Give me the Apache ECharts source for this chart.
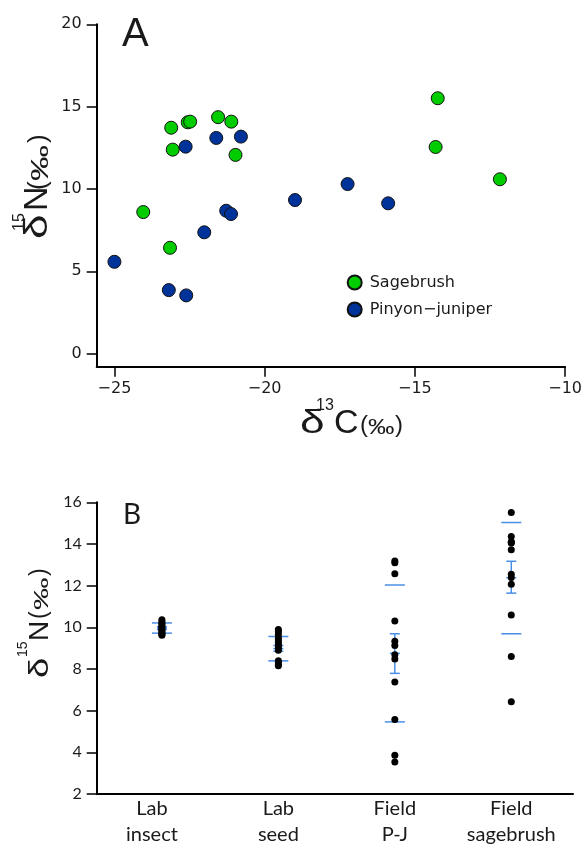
<!DOCTYPE html>
<html><head><meta charset="utf-8">
<script src="https://cdn.jsdelivr.net/npm/echarts@6/dist/echarts.min.js"></script>
<style>html,body{margin:0;padding:0;background:#fff}#c{width:585px;height:848px}</style>
</head><body><div id="c"></div>
<script>
// ---------- Panel A data (δ13C, δ15N) ----------
const sageC = [-23.11, -23.06, -22.56, -22.48, -21.55, -21.11, -20.97, -24.04, -23.15, -14.24, -14.31, -12.17];
const sageN = [13.72, 12.39, 14.05, 14.09, 14.36, 14.09, 12.07, 8.60, 6.43, 15.51, 12.55, 10.59];
const pjC = [-22.63, -21.61, -20.79, -21.28, -21.12, -25.00, -23.19, -22.61, -22.01, -18.99, -17.24, -15.89];
const pjN = [12.57, 13.10, 13.18, 8.68, 8.48, 5.58, 3.86, 3.54, 7.37, 9.33, 10.30, 9.13];
const xTicksA = [-25, -20, -15, -10];
const yTicksA = [0, 5, 10, 15, 20];
const seriesNamesA = ['Sagebrush', 'Pinyon\u2212juniper'];

// ---------- Panel B data (δ15N by group) ----------
const categoriesB = ['Lab\ninsect', 'Lab\nseed', 'Field\nP-J', 'Field\nsagebrush'];
const labInsectN = [10.36, 10.28, 10.20, 10.12, 10.05, 9.98, 9.92, 9.85, 9.78, 9.72, 9.66, 9.62];
const labSeedN = [9.90, 9.80, 9.65, 9.50, 9.40, 9.30, 9.20, 9.10, 9.00, 8.90, 8.40, 8.30, 8.20, 8.15];
const fieldPJN = pjN;
const fieldSageN = sageN;
const meanB   = [9.96, 8.98, 8.75, 12.38];
const seHighB = [10.03, 9.13, 9.69, 13.17];
const seLowB  = [9.89, 8.85, 7.79, 11.64];
const sdHighB = [10.21, 9.56, 12.03, 15.03];
const sdLowB  = [9.72, 8.39, 5.46, 9.69];
const yTicksB = [2, 4, 6, 8, 10, 12, 14, 16];

const GREEN = '#00cc00', NAVY = '#003399', ERR = '#4a8fe6', INK = '#1a1a1a';
const minus = v => String(v).replace('-', '\u2212');

function hText(parts, fam) {
  return parts.map(p => ({
    type: 'text', x: p.s, y: p.b - 0.35 * p.f, scaleX: p.sx || 1,
    style: { text: p.t, fontSize: p.f, fontFamily: p.fam || fam, fill: INK, align: 'left', verticalAlign: 'middle' }
  }));
}
function vText(parts, fam) {
  return parts.map(p => ({
    type: 'text', x: p.b - 0.35 * p.f, y: p.s, rotation: Math.PI / 2, scaleX: p.sx || 1,
    style: { text: p.t, fontSize: p.f, fontFamily: p.fam || fam, fill: INK, align: 'left', verticalAlign: 'middle' }
  }));
}
const LIB = 'Liberation Sans';

const graphics = [].concat(
  hText([{ t: 'A', f: 40, b: 49, s: 122 }], LIB),
  hText([{ t: 'B', f: 28, b: 525, s: 123 }], 'Lato'),
  vText([
    { t: '\u03b4', f: 34, b: 50, s: 239, sx: 1.3 },
    { t: '15', f: 16, b: 25, s: 231 },
    { t: 'N', f: 34, b: 50, s: 211 },
    { t: '(', f: 26, b: 48, s: 190 },
    { t: '\u2030', f: 24, b: 50, s: 181, sx: 1.5 },
    { t: ')', f: 26, b: 48, s: 143 }
  ], LIB),
  vText([
    { t: '\u03b4', f: 28, b: 50, s: 678, sx: 1.3 },
    { t: '15', f: 14, b: 28, s: 657 },
    { t: 'N', f: 28, b: 50, s: 641 },
    { t: '(', f: 23, b: 48, s: 619 },
    { t: '\u2030', f: 21, b: 50, s: 610, sx: 1.55 },
    { t: ')', f: 23, b: 48, s: 576 }
  ], LIB),
  hText([
    { t: '\u03b4', f: 34, b: 436, s: 300, sx: 1.3 },
    { t: '13', f: 16, b: 411, s: 316 },
    { t: 'C', f: 34, b: 436, s: 334 },
    { t: '(', f: 24, b: 434, s: 360 },
    { t: '\u2030', f: 22, b: 436, s: 368, sx: 1.2 },
    { t: ')', f: 24, b: 434, s: 395 }
  ], LIB)
);

const axisLineStyle = { show: true, onZero: false, lineStyle: { color: '#000', width: 2 } };
const tickStyle = { lineStyle: { color: '#000', width: 1.5 } };

const option = {
  animation: false,
  backgroundColor: '#fff',
  grid: [
    { left: 96.7, right: 12.3, top: 24.3, bottom: 481.3 },
    { left: 96.7, right: 12, top: 502.3, bottom: 52 }
  ],
  xAxis: [
    {
      gridIndex: 0, type: 'value', min: -25.59, max: -10,
      axisLine: axisLineStyle,
      axisTick: Object.assign({ show: true, inside: false, length: 10, customValues: xTicksA }, tickStyle),
      axisLabel: { show: true, customValues: xTicksA, margin: 14, formatter: minus,
        fontFamily: 'DejaVu Sans', fontSize: 16, color: INK },
      splitLine: { show: false }
    },
    {
      gridIndex: 1, type: 'value', min: 0.44, max: 4.53,
      axisLine: axisLineStyle,
      axisTick: { show: false },
      axisLabel: {
        show: true,
        customValues: categoriesB.map((c, i) => i + 1 - (i === 0 ? 0.086 : 0)),
        formatter: v => categoriesB[Math.round(v) - 1],
        margin: 2, fontFamily: 'Lato', fontSize: 20, lineHeight: 26, color: INK
      },
      splitLine: { show: false }
    }
  ],
  yAxis: [
    {
      gridIndex: 0, type: 'value', min: -0.79, max: 20,
      axisLine: axisLineStyle,
      axisTick: Object.assign({ show: true, inside: false, length: 10, customValues: yTicksA }, tickStyle),
      axisLabel: { show: true, customValues: yTicksA, margin: 15,
        fontFamily: 'DejaVu Sans', fontSize: 16, color: INK },
      splitLine: { show: false }
    },
    {
      gridIndex: 1, type: 'value', min: 2, max: 16, interval: 2,
      axisLine: axisLineStyle,
      axisTick: Object.assign({ show: true, inside: false, length: 10 }, tickStyle),
      axisLabel: { show: true, margin: 15, fontFamily: 'Lato', fontSize: 16, color: INK },
      splitLine: { show: false }
    }
  ],
  legend: {
    data: seriesNamesA, orient: 'vertical', left: 346.7, top: 274.5,
    itemWidth: 20, itemHeight: 14, itemGap: 11, icon: 'circle', padding: 0,
    textStyle: { fontFamily: 'DejaVu Sans', fontSize: 16, color: INK }
  },
  series: [
    {
      name: seriesNamesA[0], type: 'scatter', xAxisIndex: 0, yAxisIndex: 0,
      symbolSize: 13, itemStyle: { color: GREEN, borderColor: '#111', borderWidth: 1, opacity: 1 },
      data: sageC.map((c, i) => [c, sageN[i]])
    },
    {
      name: seriesNamesA[1], type: 'scatter', xAxisIndex: 0, yAxisIndex: 0,
      symbolSize: 13, itemStyle: { color: NAVY, borderColor: '#111', borderWidth: 1, opacity: 1 },
      data: pjC.map((c, i) => [c, pjN[i]])
    },
    {
      name: 'errors', type: 'custom', xAxisIndex: 1, yAxisIndex: 1,
      data: categoriesB.map((c, i) => [i + 1, meanB[i], seLowB[i], seHighB[i], sdLowB[i], sdHighB[i]]),
      encode: { x: 0, y: 1 },
      renderItem: (params, api) => {
        const x = api.value(0);
        const c = v => api.coord([x, v]);
        const pm = c(api.value(1)), pl = c(api.value(2)), ph = c(api.value(3));
        const sl = c(api.value(4)), sh = c(api.value(5));
        const st = { stroke: ERR, lineWidth: 1.5 };
        const hl = (p, w) => ({ type: 'line', shape: { x1: p[0] - w, y1: p[1], x2: p[0] + w, y2: p[1] }, style: st });
        return { type: 'group', children: [
          hl(sh, 10), hl(sl, 10),
          { type: 'line', shape: { x1: pl[0], y1: pl[1], x2: ph[0], y2: ph[1] }, style: st },
          hl(ph, 5), hl(pl, 5), hl(pm, 5)
        ] };
      },
      z: 2
    },
    {
      name: 'points', type: 'scatter', xAxisIndex: 1, yAxisIndex: 1,
      symbolSize: 7, itemStyle: { color: '#000', opacity: 1 },
      data: [labInsectN, labSeedN, fieldPJN, fieldSageN].flatMap((arr, i) => arr.map(v => [i + 1, v])),
      z: 3
    }
  ],
  graphic: { elements: graphics }
};

const chart = echarts.init(document.getElementById('c'), null, { renderer: 'canvas' });
chart.setOption(option);
</script>
</body></html>
